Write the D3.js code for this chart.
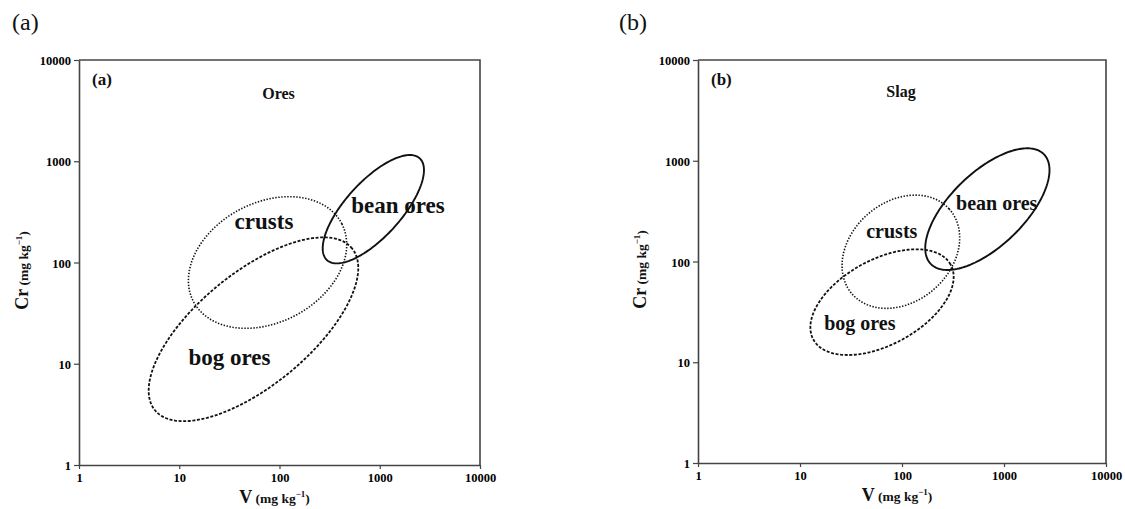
<!DOCTYPE html>
<html>
<head>
<meta charset="utf-8">
<script src="https://cdn.jsdelivr.net/npm/d3@7"></script>
<style>
  html, body { margin: 0; padding: 0; background: #ffffff; }
  svg { display: block; font-family: "Liberation Serif", "Times New Roman", serif; }
</style>
</head>
<body>
<svg id="chart" width="1125" height="509"></svg>
<script>
// ---------------- data ----------------
const panelTags   = ["(a)", "(b)"];
const panelTitles = ["Ores", "Slag"];
const tickValues  = [1, 10, 100, 1000, 10000];
const groupNames  = ["bean ores", "crusts", "bog ores"];

// ellipse centres (mg kg-1), semi-axes (decades, log10 space), rotation (deg)
const centerV_a = [863, 76, 55];
const centerCr_a = [336, 100, 21.9];
const semiMajor_a = [0.683, 0.834, 1.267];
const semiMinor_a = [0.274, 0.592, 0.558];
const angle_a = [47.3, 27.2, 39];

const centerV_b = [687, 97.5, 63.7];
const centerCr_b = [331, 125, 39.5];
const semiMajor_b = [0.777, 0.636, 0.769];
const semiMinor_b = [0.363, 0.494, 0.421];
const angle_b = [44.6, 42, 29.1];

// group label anchors (mg kg-1)
const labelV_a = [1520, 70, 31.7];
const labelCr_a = [310, 214, 9.7];
const labelV_b = [849, 79.4, 38.6];
const labelCr_b = [324, 170, 20.9];

// ---------------- drawing ----------------
const svg = d3.select("#chart");
svg.append("rect").attr("width", 1125).attr("height", 509).attr("fill", "#fff");

const layouts = [
  { left: 79, right: 480, top: 60, bottom: 465, tagX: 12, yLabX: 22, labelSize: 23, titleY: 98.5 },
  { left: 698, right: 1106, top: 60, bottom: 463, tagX: 619, yLabX: 640, labelSize: 20, titleY: 97 }
];
const ellipseData = [
  { cv: centerV_a, cc: centerCr_a, a: semiMajor_a, b: semiMinor_a, ang: angle_a, lv: labelV_a, lc: labelCr_a },
  { cv: centerV_b, cc: centerCr_b, a: semiMajor_b, b: semiMinor_b, ang: angle_b, lv: labelV_b, lc: labelCr_b }
];
const styles = {
  "bean ores": { dash: null, width: 1.9 },
  "crusts":    { dash: "1.4,1.6", width: 1.6 },
  "bog ores":  { dash: "3,1.6", width: 1.8 }
};

layouts.forEach((L, p) => {
  const x = d3.scaleLog().domain([1, 10000]).range([L.left, L.right]);
  const y = d3.scaleLog().domain([1, 10000]).range([L.bottom, L.top]);
  const g = svg.append("g");

  // outer tag
  svg.append("text").attr("x", L.tagX).attr("y", 30)
    .attr("font-size", 24).attr("fill", "#111").text(panelTags[p]);

  // axes
  const xAxis = d3.axisBottom(x).tickValues(tickValues).tickFormat(d3.format("d"))
    .tickSizeInner(4).tickSizeOuter(0).tickPadding(4);
  const yAxis = d3.axisLeft(y).tickValues(tickValues).tickFormat(d3.format("d"))
    .tickSizeInner(5).tickSizeOuter(0).tickPadding(3);
  const gx = g.append("g").attr("transform", `translate(0,${L.bottom})`).call(xAxis);
  const gy = g.append("g").attr("transform", `translate(${L.left},0)`).call(yAxis);
  [gx, gy].forEach(ax => {
    ax.attr("font-family", null);
    ax.select(".domain").attr("stroke", "#444").attr("stroke-width", 1.6);
    ax.selectAll(".tick line").attr("stroke", "#444").attr("stroke-width", 1.2);
    ax.selectAll(".tick text").style("font-family", "'Liberation Serif', serif")
      .style("font-weight", "bold").attr("font-size", 12.5).attr("fill", "#000");
  });
  gy.selectAll(".tick text").attr("dy", "0.36em");

  // frame (top / right)
  g.append("path")
    .attr("d", `M${L.left},${L.top}H${L.right}V${L.bottom}`)
    .attr("fill", "none").attr("stroke", "#444").attr("stroke-width", 1.6);

  // inner tag and title
  g.append("text").attr("x", x(1) + 13).attr("y", 85)
    .attr("font-size", 17).attr("font-weight", "bold").attr("fill", "#111").text(panelTags[p]);
  g.append("text").attr("x", (L.left + L.right) / 2 - 1).attr("y", L.titleY)
    .attr("text-anchor", "middle").attr("font-size", 16).attr("font-weight", "bold")
    .attr("fill", "#111").text(panelTitles[p]);

  // axis titles
  const xt = g.append("text").attr("x", (L.left + L.right) / 2 - 5).attr("y", L.bottom + 38)
    .attr("text-anchor", "middle").attr("font-weight", "bold").attr("fill", "#111");
  xt.append("tspan").attr("font-size", 18).text("V");
  xt.append("tspan").attr("font-size", 13.5).text(" (mg kg");
  xt.append("tspan").attr("font-size", 9).attr("dy", -6).text("−1");
  xt.append("tspan").attr("font-size", 13.5).attr("dy", 6).text(")");

  const yt = g.append("text")
    .attr("transform", `translate(${L.yLabX + 6},${(L.top + L.bottom) / 2 + 8}) rotate(-90)`)
    .attr("text-anchor", "middle").attr("font-weight", "bold").attr("fill", "#111");
  yt.append("tspan").attr("font-size", 18).text("Cr");
  yt.append("tspan").attr("font-size", 13.5).text(" (mg kg");
  yt.append("tspan").attr("font-size", 9).attr("dy", -6).text("−1");
  yt.append("tspan").attr("font-size", 13.5).attr("dy", 6).text(")");

  // ellipses
  const E = ellipseData[p];
  const line = d3.line().x(d => x(Math.pow(10, d[0]))).y(d => y(Math.pow(10, d[1])))
    .curve(d3.curveLinearClosed);
  groupNames.forEach((name, i) => {
    const cx = Math.log10(E.cv[i]), cy = Math.log10(E.cc[i]);
    const a = E.a[i], b = E.b[i], th = E.ang[i] * Math.PI / 180;
    const pts = d3.range(0, 360, 2).map(deg => {
      const t = deg * Math.PI / 180;
      return [cx + a * Math.cos(th) * Math.cos(t) - b * Math.sin(th) * Math.sin(t),
              cy + a * Math.sin(th) * Math.cos(t) + b * Math.cos(th) * Math.sin(t)];
    });
    const st = styles[name];
    g.append("path").attr("d", line(pts)).attr("fill", "none")
      .attr("stroke", "#111").attr("stroke-width", st.width)
      .attr("stroke-dasharray", st.dash);
    g.append("text").attr("x", x(E.lv[i])).attr("y", y(E.lc[i]))
      .attr("text-anchor", "middle").attr("font-size", L.labelSize)
      .attr("font-weight", "bold").attr("fill", "#111").text(name);
  });
});
</script>
</body>
</html>
